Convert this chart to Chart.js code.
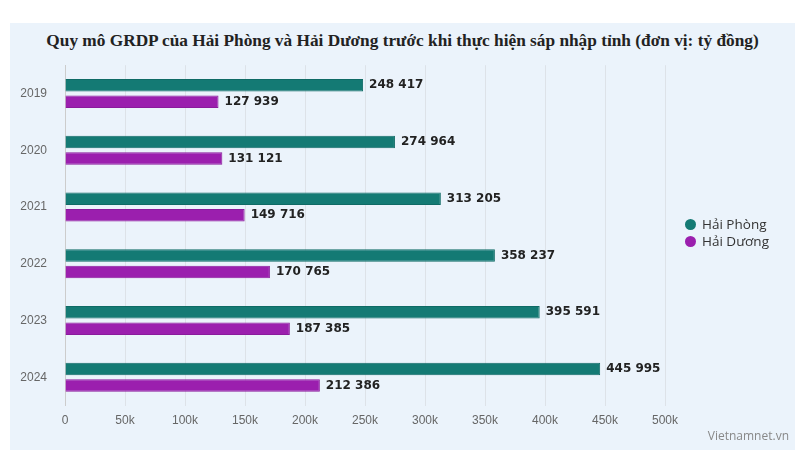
<!DOCTYPE html>
<html><head><meta charset="utf-8">
<script src="https://cdn.jsdelivr.net/npm/chart.js@4/dist/chart.umd.min.js"></script>
<style>
body{margin:0;background:#fff;}
#wrap{position:absolute;left:10px;top:23px;width:785px;height:427px;background:#ebf3fb;}
#title{position:absolute;left:0;top:8px;width:785px;text-align:center;font:bold 17.3px "Liberation Serif",serif;color:#222;white-space:nowrap}
#src{position:absolute;right:6px;bottom:6px;font:12px "Open Sans",sans-serif;color:#888}
#legend{position:absolute;left:675px;top:193px;font:13.5px "Open Sans",sans-serif;color:#333;line-height:17px}
#legend i{display:inline-block;width:11px;height:11px;border-radius:50%;margin-right:6px;vertical-align:-1px}
canvas{position:absolute;left:0;top:0}
</style></head><body>
<div id="wrap"><div id="title">Quy mô GRDP của Hải Phòng và Hải Dương trước khi thực hiện sáp nhập tỉnh (đơn vị: tỷ đồng)</div>
<div style="position:absolute;left:0;top:25px;width:785px;height:388px"><canvas id="canvas"></canvas></div>
<div id="legend"></div>
<div id="src">Vietnamnet.vn</div></div>
<script>
const years = ["2019", "2020", "2021", "2022", "2023", "2024"];
const haiPhong = [248417, 274964, 313205, 358237, 395591, 445995];
const haiDuong = [127939, 131121, 149716, 170765, 187385, 212386];
const seriesNames = ["Hải Phòng", "Hải Dương"];
const colors = ["#147a74", "#9b1fae"];

const fmt = v => String(v).replace(/\B(?=(\d{3})+(?!\d))/g, " ");

const labelPlugin = {
  id: "labels",
  afterDatasetsDraw(chart) {
    const ctx = chart.ctx;
    ctx.save();
    ctx.font = "bold 12px 'DejaVu Sans', sans-serif";
    ctx.fillStyle = "#222";
    ctx.textBaseline = "middle";
    chart.data.datasets.forEach((ds, i) => {
      chart.getDatasetMeta(i).data.forEach((bar, j) => {
        ctx.fillText(fmt(ds.data[j]), bar.x + 6, bar.y);
      });
    });
    ctx.restore();
  }
};

document.getElementById("legend").innerHTML = seriesNames
  .map((n, i) => `<div><i style="background:${colors[i]}"></i>${n}</div>`).join("");

new Chart(document.getElementById("canvas"), {
  type: "bar",
  data: {
    labels: years,
    datasets: [
      { label: seriesNames[0], data: haiPhong, backgroundColor: colors[0], borderColor: "#0f6a65", borderWidth: 1 },
      { label: seriesNames[1], data: haiDuong, backgroundColor: colors[1], borderColor: "#8a1a9c", borderWidth: 1 },
    ],
  },
  options: {
    indexAxis: "y",
    responsive: true,
    maintainAspectRatio: false,
    animation: false,
    layout: { padding: { left: 4, right: 130, top: 0, bottom: 0 } },
    datasets: { bar: { categoryPercentage: 0.58, barPercentage: 0.76 } },
    scales: {
      x: {
        min: 0, max: 500000,
        ticks: { stepSize: 50000, padding: 8, callback: v => v === 0 ? "0" : v / 1000 + "k", color: "#666", font: { size: 12 } },
        grid: { color: "#dde2e8", drawTicks: false },
        border: { display: false },
      },
      y: {
        ticks: { color: "#666", font: { size: 12 }, padding: 10 },
        grid: { display: false },
        border: { color: "#ccc" },
        afterFit(s) { s.width = 51; },
      },
    },
    plugins: { legend: { display: false }, tooltip: { enabled: false } },
  },
  plugins: [labelPlugin],
});
</script></body></html>
